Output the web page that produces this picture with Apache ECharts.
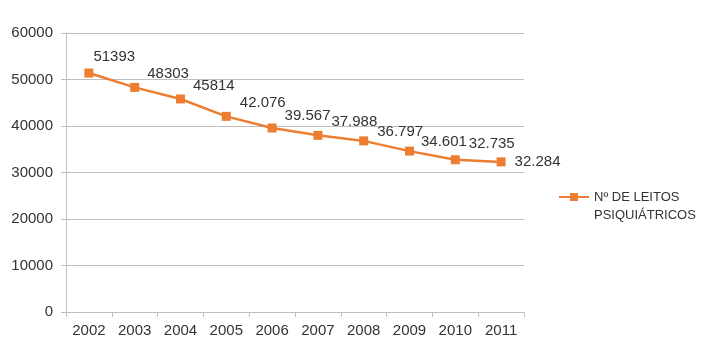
<!DOCTYPE html>
<html>
<head>
<meta charset="utf-8">
<script src="https://cdn.jsdelivr.net/npm/echarts@6/dist/echarts.min.js"></script>
<style>
  html, body { margin: 0; padding: 0; background: #fff; }
  #chart { width: 706px; height: 350px; }
</style>
</head>
<body>
<div id="chart"></div>
<script>
const years = ['2002', '2003', '2004', '2005', '2006', '2007', '2008', '2009', '2010', '2011']
const leitos = [51393, 48303, 45814, 42076, 39567, 37988, 36797, 34601, 32735, 32284]
const leitosText = ['51393', '48303', '45814', '42.076', '39.567', '37.988', '36.797', '34.601', '32.735', '32.284']
// label nudges, like the manually placed excel labels
const labelDy = [-16, -14, -13, -13, -12, -13, -9, -9, -16, 0]
const labelDx = [-8, 0, 0, 1, 0, 1, 1, -1, 1, 1]

const ORANGE = '#ED7D31'
const TEXT = '#333'
const FONT = 'Liberation Sans'

const chart = echarts.init(document.getElementById('chart'))

chart.setOption({
  animation: false,
  textStyle: { fontFamily: FONT },
  grid: { left: 66, right: 182, top: 33, bottom: 38 },
  legend: {
    orient: 'vertical',
    left: 553,
    top: 165,
    itemWidth: 30,
    itemHeight: 10,
    itemGap: 0,
    data: ['Nº DE LEITOS PSIQUIÁTRICOS'],
    // empty first line so the icon lines up with "Nº DE LEITOS"
    formatter: () => '\nNº DE LEITOS\nPSIQUIÁTRICOS',
    textStyle: { color: TEXT, fontSize: 13, fontFamily: FONT, lineHeight: 18 }
  },
  xAxis: {
    type: 'category',
    data: years,
    boundaryGap: true,
    axisLine: { lineStyle: { color: '#BFBFBF' } },
    axisTick: { show: true, length: 5, lineStyle: { color: '#BFBFBF' } },
    axisLabel: { color: TEXT, fontSize: 15, margin: 11 }
  },
  yAxis: {
    type: 'value',
    min: 0,
    max: 60000,
    interval: 10000,
    axisLine: { show: true, lineStyle: { color: '#BFBFBF' } },
    axisTick: { show: true, length: 5, lineStyle: { color: '#BFBFBF' } },
    axisLabel: { color: TEXT, fontSize: 15, margin: 13, formatter: v => String(v) },
    splitLine: { lineStyle: { color: '#BFBFBF' } }
  },
  series: [{
    type: 'line',
    name: 'Nº DE LEITOS PSIQUIÁTRICOS',
    symbol: 'rect',
    symbolSize: 9,
    color: ORANGE,
    lineStyle: { width: 2.5, color: ORANGE },
    itemStyle: { color: ORANGE },
    data: leitos.map((v, i) => ({
      value: v,
      label: {
        show: true,
        position: 'right',
        distance: 8,
        offset: [labelDx[i], labelDy[i]],
        formatter: () => leitosText[i],
        color: TEXT,
        fontSize: 15,
        fontFamily: FONT
      }
    }))
  }]
})
</script>
</body>
</html>
